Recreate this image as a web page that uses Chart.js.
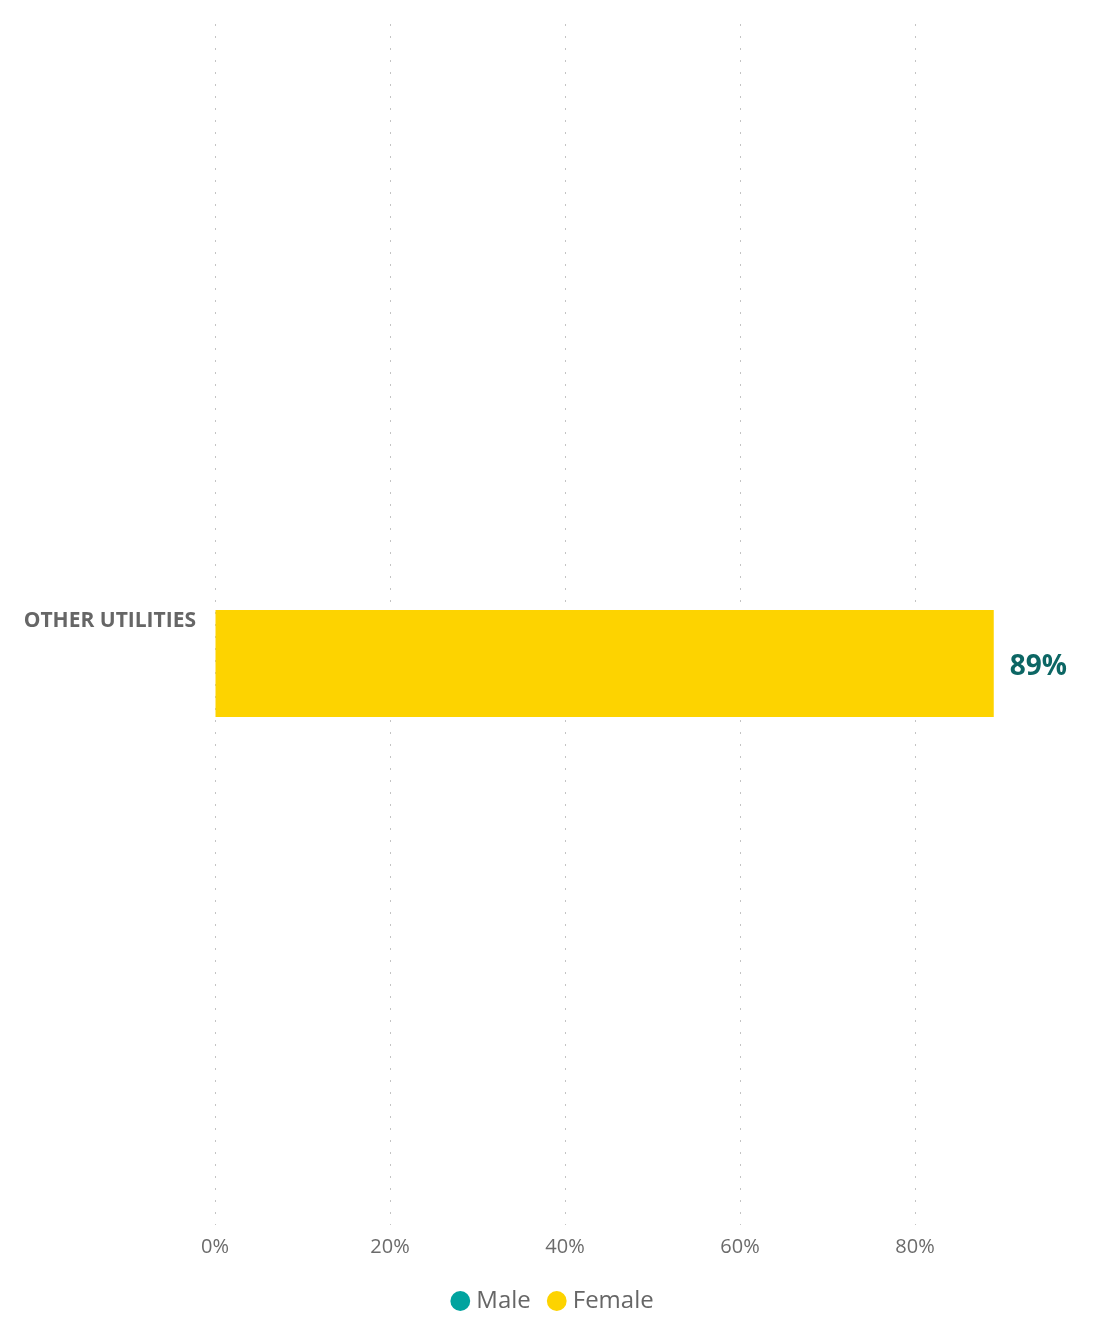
<!DOCTYPE html>
<html>
<head>
<meta charset="utf-8">
<script src="https://cdn.jsdelivr.net/npm/chart.js@4.4.1/dist/chart.umd.min.js"></script>
<style>
  html, body { margin: 0; padding: 0; background: #ffffff; }
  #wrap { width: 1100px; height: 1320px; position: relative; }
</style>
</head>
<body>
<div id="wrap"><canvas id="c" width="1100" height="1320"></canvas></div>
<script>
const categories = ["OTHER UTILITIES"];
const maleValues = [null];
const femaleValues = [89];
const xTickValues = [0, 20, 40, 60, 80];
const seriesNames = ["Male", "Female"];
const seriesColors = ["#01A39F", "#FDD300"];

const FONT = "'Open Sans', 'Noto Sans', sans-serif";

const valueLabelPlugin = {
  id: 'valueLabels',
  afterDatasetsDraw(chart) {
    const ctx = chart.ctx;
    ctx.save();
    ctx.font = "bold 28px " + FONT;
    ctx.fillStyle = "#0C6664";
    ctx.textAlign = "left";
    ctx.textBaseline = "middle";
    chart.data.datasets.forEach((ds, di) => {
      const meta = chart.getDatasetMeta(di);
      meta.data.forEach((bar, i) => {
        const v = ds.data[i];
        if (v === null || v === undefined) return;
        ctx.fillText(v + "%", bar.x + 16, bar.y + 3);
      });
    });
    ctx.restore();
  }
};

new Chart(document.getElementById('c'), {
  type: 'bar',
  data: {
    labels: categories,
    datasets: [
      { label: seriesNames[0], data: maleValues, backgroundColor: seriesColors[0], borderWidth: 0 },
      { label: seriesNames[1], data: femaleValues, backgroundColor: seriesColors[1], borderWidth: 0 }
    ]
  },
  options: {
    indexAxis: 'y',
    responsive: false,
    animation: false,
    maintainAspectRatio: false,
    categoryPercentage: 0.13,
    barPercentage: 1.372,
    layout: { padding: { top: 24, left: 20, right: 10, bottom: -3 } },
    scales: {
      x: {
        min: 0,
        max: 100,
        afterBuildTicks(scale) {
          scale.ticks = xTickValues.map(v => ({ value: v }));
        },
        afterFit(scale) { scale.height = 42; },
        grid: { color: '#c4c4c4', lineWidth: 1, drawTicks: false },
        border: { display: false, dash: [2, 10] },
        ticks: {
          padding: 10,
          color: '#6b6b6b',
          font: { family: FONT, size: 20 },
          callback: v => v + '%'
        }
      },
      y: {
        afterFit(scale) {
          scale.width = 195;
          scale.paddingTop = 0;
          scale.paddingBottom = 0;
        },
        grid: { display: false, drawTicks: false },
        border: { display: false },
        ticks: {
          padding: 19,
          labelOffset: -3,
          color: '#666666',
          font: { family: FONT, size: 21, weight: 'bold' }
        }
      }
    },
    plugins: {
      legend: {
        position: 'bottom',
        labels: {
          usePointStyle: true,
          pointStyle: 'circle',
          boxWidth: 8,
          boxHeight: 14,
          padding: 22,
          color: '#666666',
          font: { family: FONT, size: 24 }
        }
      },
      tooltip: { enabled: false }
    }
  },
  plugins: [valueLabelPlugin]
});
</script>
</body>
</html>
